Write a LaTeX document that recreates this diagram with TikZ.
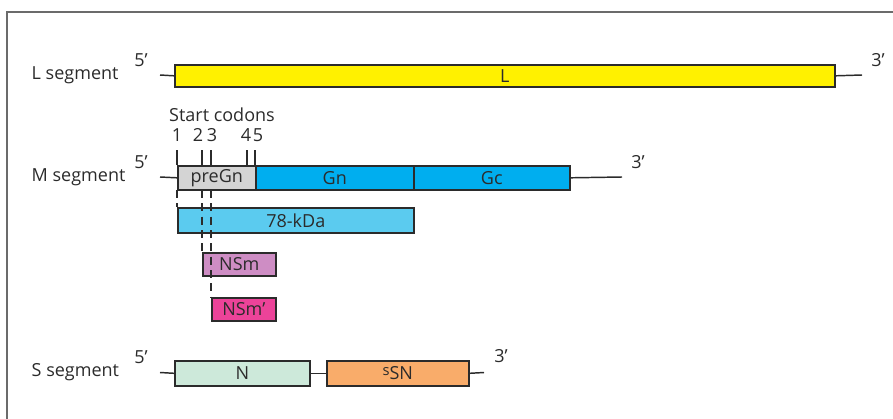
\documentclass[tikz,border=0pt]{standalone}
\usepackage{fontspec}
\setmainfont{Open Sans}
\definecolor{frameg}{HTML}{6B6B6B}
\definecolor{ink}{HTML}{2B2B2B}
\definecolor{cL}{HTML}{FFF100}
\definecolor{cPre}{HTML}{D4D4D4}
\definecolor{cG}{HTML}{00AEEF}
\definecolor{c78}{HTML}{5BCBEF}
\definecolor{cNSm}{HTML}{CE8DC4}
\definecolor{cNSmp}{HTML}{EC4399}
\definecolor{cN}{HTML}{CDE9DA}
\definecolor{cSSN}{HTML}{F9AC6A}
\begin{document}
\begin{tikzpicture}[x=0.75pt,y=-0.75pt,
  every node/.style={text=ink, font=\fontsize{13.5}{16}\selectfont},
  seg/.style={draw=ink, line width=1.2pt, inner sep=0pt, anchor=north west},
  conn/.style={draw=ink, line width=1.1pt},
  tick/.style={draw=ink, line width=1.1pt},
  dsh/.style={draw=ink, line width=1.1pt, dash pattern=on 6pt off 4pt}]
\useasboundingbox (0,0) rectangle (893,418);
\draw[frameg, line width=1.5pt] (7,420) -- (7,12) -- (895,12);

% L segment
\node[anchor=west] (Llab) at (27,75) {L segment};
\node (L5p) at (141,60) {5’};
\node (L3p) at (878,60) {3’};
\node[seg, fill=cL, minimum width=660*0.75pt, minimum height=22*0.75pt] (L) at (174,64) {L};
\coordinate (La) at (160,75);
\coordinate (Lb) at (862,75);
\draw[conn] (La) -- (L.west);
\draw[conn] (L.east) -- (Lb);

% M segment
\node[anchor=west] (Mlab) at (27,177) {M segment};
\node (M5p) at (141,162) {5’};
\node (M3p) at (638,162) {3’};
\node (sc) at (222,115) {Start codons};
\node (n1) at (177,135) {1};
\node (n2) at (198,135) {2};
\node (n3) at (212,135) {3};
\node (n4) at (246,135) {4};
\node (n5) at (258,135) {5};
\node[seg, fill=cPre, minimum width=78*0.75pt, minimum height=24*0.75pt] (pre) at (177,165) {preGn};
\node[seg, fill=cG, minimum width=158*0.75pt, minimum height=24*0.75pt] (Gn) at (255,165) {Gn};
\node[seg, fill=cG, minimum width=156*0.75pt, minimum height=24*0.75pt] (Gc) at (413,165) {Gc};
\coordinate (Ma) at (160,177);
\coordinate (Mb) at (622,177);
\draw[conn] (Ma) -- (pre.west);
\draw[conn] (Gc.east) -- (Mb);
\node[seg, fill=c78, minimum width=236*0.75pt, minimum height=25*0.75pt] (kda) at (177,207) {78-kDa};
\node[seg, fill=cNSm, minimum width=73*0.75pt, minimum height=23*0.75pt] (nsm) at (202,252) {NSm};
\node[seg, fill=cNSmp, minimum width=64*0.75pt, minimum height=23*0.75pt] (nsmp) at (211,297) {NSm’};
% ticks
\coordinate (t1) at (177,150);
\coordinate (t2) at (202,150);
\coordinate (t3) at (211,150);
\coordinate (t4) at (247,150);
\coordinate (t5) at (255,150);
\draw[tick] (t1) -- (t1 |- pre.north);
\draw[tick] (t2) -- (t2 |- pre.north);
\draw[tick] (t3) -- (t3 |- pre.north);
\draw[tick] (t4) -- (t4 |- pre.north);
\draw[tick] (t5) -- (t5 |- pre.north);
\coordinate (d1) at (177,190);
\coordinate (d2) at (202,190);
\coordinate (d3) at (211,190);
\draw[dsh] (d1) -- (d1 |- kda.north);
\draw[dsh] (d2) -- (d2 |- nsm.north);
\draw[dsh] (d3) -- (d3 |- nsmp.north);

% S segment
\node[anchor=west] (Slab) at (27,372) {S segment};
\node (S5p) at (141,357) {5’};
\node (S3p) at (501,356) {3’};
\node[seg, fill=cN, minimum width=135*0.75pt, minimum height=25*0.75pt] (N) at (174,360) {N};
\node[seg, fill=cSSN, minimum width=142*0.75pt, minimum height=25*0.75pt] (ssn) at (326,360) {\raisebox{0.45ex}{\fontsize{11}{11}\selectfont s}SN};
\coordinate (Sa) at (160,372.5);
\coordinate (Sb) at (484,372.5);
\draw[conn] (Sa) -- (N.west);
\draw[conn] (N.east) -- (ssn.west);
\draw[conn] (ssn.east) -- (Sb);
\end{tikzpicture}
\end{document}
